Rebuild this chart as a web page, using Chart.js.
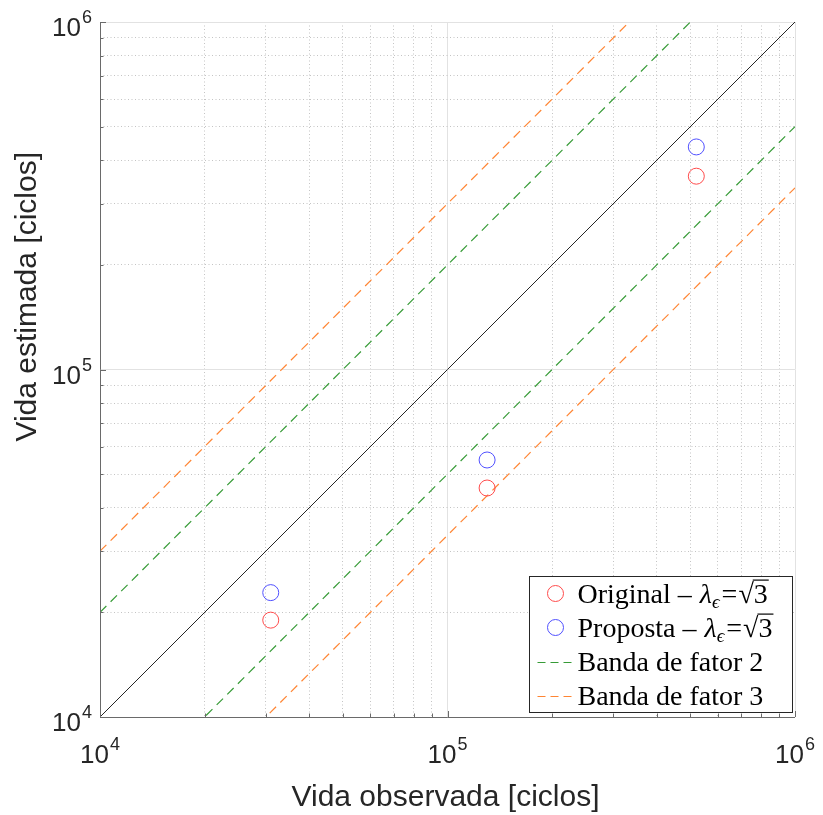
<!DOCTYPE html>
<html>
<head>
<meta charset="utf-8">
<script src="https://cdn.jsdelivr.net/npm/chart.js@4.4.1/dist/chart.umd.min.js"></script>
<style>
  body { margin: 0; background: #fff; }
  canvas { display: block; }
</style>
</head>
<body>
<canvas id="chart" width="823" height="815"></canvas>
<script>
// observed life (x) vs estimated life (y), cycles
const observedLife = [3.1e4, 1.3e5, 5.2e5];
const estimatedOriginal = [1.9e4, 4.56e4, 3.6e5];
const estimatedProposta = [2.28e4, 5.49e4, 4.37e5];

// end points of the reference lines
const lineX = [1e4, 1e6];
const identityY = [1e4, 1e6];
const factor2UpperY = [2e4, 2e6];
const factor2LowerY = [5e3, 5e5];
const factor3UpperY = [3e4, 3e6];
const factor3LowerY = [3.333e3, 3.333e5];

const majorTicks = [1e4, 1e5, 1e6];
const tickExponents = ['4', '5', '6'];
const minorMultipliers = [2, 3, 4, 5, 6, 7, 8, 9];

const legendLabels = ['Original', 'Proposta', 'Banda de fator 2', 'Banda de fator 3'];

const RED = 'rgb(255, 75, 75)';
const BLUE = 'rgb(80, 80, 255)';
const GREEN = '#379b37';
const ORANGE = '#ff8533';
const TEXT = '#262626';

// tick positions: every 1..9 x 10^k
const tickValues = [];
majorTicks.forEach((m, i) => {
  tickValues.push(m);
  if (i < majorTicks.length - 1) {
    minorMultipliers.forEach(k => tickValues.push(k * m));
  }
});

function isMajor(v) {
  const l = Math.log10(v);
  return Math.abs(l - Math.round(l)) < 1e-9;
}

function setTicks(scale) {
  scale.ticks = tickValues.map(v => ({ value: v, major: isMajor(v) }));
}

const toPoints = (xs, ys) => xs.map((x, i) => ({ x: x, y: ys[i] }));

const lineSet = (label, ys, color, dash, width) => ({
  label: label,
  data: toPoints(lineX, ys),
  showLine: true,
  borderColor: color,
  borderWidth: width,
  borderDash: dash,
  pointRadius: 0,
  pointHoverRadius: 0,
  clip: 0,
});

const gridColor = (c) => (c.tick && !isMajor(c.tick.value) ? '#c4c4c4' : '#e2e2e2');
const gridDash = (c) => (c.tick && !isMajor(c.tick.value) ? [1, 2.5] : []);

// draws "10" with a raised exponent
function drawPower(ctx, exp, x, y, align) {
  ctx.font = '26px "Liberation Sans", Arial, sans-serif';
  const wBase = ctx.measureText('10').width;
  ctx.font = '18px "Liberation Sans", Arial, sans-serif';
  const wExp = ctx.measureText(exp).width;
  const total = wBase + 1 + wExp;
  const start = align === 'center' ? x - total / 2 : x - total;
  ctx.textAlign = 'left';
  ctx.textBaseline = 'alphabetic';
  ctx.fillStyle = TEXT;
  ctx.font = '26px "Liberation Sans", Arial, sans-serif';
  ctx.fillText('10', start, y);
  ctx.font = '18px "Liberation Sans", Arial, sans-serif';
  ctx.fillText(exp, start + wBase + 1, y - 13);
}

const SERIF = '"Liberation Serif", "DejaVu Serif", serif';

// "Name – λϵ=√3"
function drawLambdaLabel(ctx, name, x, y) {
  ctx.textAlign = 'left';
  ctx.textBaseline = 'alphabetic';
  ctx.fillStyle = '#000';
  ctx.font = '28px ' + SERIF;
  const t1 = name + ' \u2013 ';
  ctx.fillText(t1, x, y);
  x += ctx.measureText(t1).width + 1;
  ctx.font = 'italic 28px ' + SERIF;
  ctx.fillText('\u03bb', x, y);
  x += ctx.measureText('\u03bb').width;
  ctx.font = 'italic 19px ' + SERIF;
  ctx.fillText('\u03f5', x, y + 5);
  x += ctx.measureText('\u03f5').width + 2;
  ctx.font = '28px ' + SERIF;
  ctx.fillText('=', x, y);
  x += ctx.measureText('=').width + 1;
  const rad = ctx.measureText('\u221a');
  ctx.fillText('\u221a', x, y);
  const top = y - rad.actualBoundingBoxAscent;
  x += rad.width;
  const w3 = ctx.measureText('3').width;
  ctx.fillText('3', x, y);
  ctx.strokeStyle = '#000';
  ctx.lineWidth = 1.2;
  ctx.beginPath();
  ctx.moveTo(x - 1, top + 0.6);
  ctx.lineTo(x + w3 + 1, top + 0.6);
  ctx.stroke();
}

const decorPlugin = {
  id: 'decor',
  afterDraw(chart) {
    const ctx = chart.ctx;
    const area = chart.chartArea;
    const xs = chart.scales.x;
    const ys = chart.scales.y;
    ctx.save();

    // axis lines with inward ticks
    ctx.strokeStyle = '#6a6a6a';
    ctx.lineWidth = 1;
    ctx.beginPath();
    ctx.moveTo(area.left + 0.5, area.top);
    ctx.lineTo(area.left + 0.5, area.bottom + 0.5);
    ctx.lineTo(area.right, area.bottom + 0.5);
    xs.ticks.forEach(t => {
      const px = Math.round(xs.getPixelForValue(t.value)) + 0.5;
      const len = isMajor(t.value) ? 6 : 3.5;
      ctx.moveTo(px, area.bottom);
      ctx.lineTo(px, area.bottom - len);
    });
    ys.ticks.forEach(t => {
      const py = Math.round(ys.getPixelForValue(t.value)) + 0.5;
      const len = isMajor(t.value) ? 6 : 3.5;
      ctx.moveTo(area.left, py);
      ctx.lineTo(area.left + len, py);
    });
    ctx.stroke();

    // tick labels
    majorTicks.forEach((v, i) => {
      drawPower(ctx, tickExponents[i], xs.getPixelForValue(v), area.bottom + 46, 'center');
      drawPower(ctx, tickExponents[i], area.left - 8, ys.getPixelForValue(v) + 14, 'right');
    });

    // axis titles
    ctx.fillStyle = TEXT;
    ctx.font = '30px "Liberation Sans", Arial, sans-serif';
    ctx.textAlign = 'center';
    ctx.textBaseline = 'alphabetic';
    ctx.fillText('Vida observada [ciclos]', (area.left + area.right) / 2 - 2, 806);
    ctx.save();
    ctx.translate(36, 152);
    ctx.rotate(-Math.PI / 2);
    ctx.textAlign = 'right';
    ctx.fillText('Vida estimada [ciclos]', 0, 0);
    ctx.restore();

    // legend box in the lower right corner
    const bw = 263, bh = 136;
    const bx = Math.round(area.right - 3 - bw) + 0.5;
    const by = Math.round(area.bottom - 5 - bh) + 0.5;
    ctx.fillStyle = '#fff';
    ctx.fillRect(bx, by, bw, bh);
    ctx.strokeStyle = '#262626';
    ctx.lineWidth = 1;
    ctx.strokeRect(bx, by, bw, bh);
    const rowH = bh / 4;
    const markerX = bx + 26;
    const textX = bx + 48;
    legendLabels.forEach((label, i) => {
      const cy = by + rowH * (i + 0.5);
      if (i < 2) {
        ctx.strokeStyle = i === 0 ? RED : BLUE;
        ctx.lineWidth = 1;
        ctx.beginPath();
        ctx.arc(markerX, cy, 8, 0, Math.PI * 2);
        ctx.stroke();
        drawLambdaLabel(ctx, label, textX, cy + 9);
      } else {
        ctx.strokeStyle = i === 2 ? GREEN : ORANGE;
        ctx.lineWidth = 1.2;
        ctx.setLineDash([8, 5]);
        ctx.beginPath();
        ctx.moveTo(bx + 8, Math.round(cy) + 0.5);
        ctx.lineTo(bx + 45, Math.round(cy) + 0.5);
        ctx.stroke();
        ctx.setLineDash([]);
        ctx.fillStyle = '#000';
        ctx.font = '28px ' + SERIF;
        ctx.textAlign = 'left';
        ctx.fillText(label, textX, cy + 9);
      }
    });
    ctx.restore();
  },
};

new Chart(document.getElementById('chart'), {
  type: 'scatter',
  data: {
    datasets: [
      {
        label: legendLabels[0],
        data: toPoints(observedLife, estimatedOriginal),
        pointStyle: 'circle',
        pointRadius: 8,
        pointBorderWidth: 1,
        pointBorderColor: RED,
        pointBackgroundColor: 'rgba(0,0,0,0)',
        showLine: false,
      },
      {
        label: legendLabels[1],
        data: toPoints(observedLife, estimatedProposta),
        pointStyle: 'circle',
        pointRadius: 8,
        pointBorderWidth: 1,
        pointBorderColor: BLUE,
        pointBackgroundColor: 'rgba(0,0,0,0)',
        showLine: false,
      },
      lineSet('identity', identityY, '#262626', [], 1),
      lineSet(legendLabels[2], factor2UpperY, GREEN, [9, 6], 1.2),
      lineSet(legendLabels[2] + ' (inf)', factor2LowerY, GREEN, [9, 6], 1.2),
      lineSet(legendLabels[3], factor3UpperY, ORANGE, [9, 6], 1.2),
      lineSet(legendLabels[3] + ' (inf)', factor3LowerY, ORANGE, [9, 6], 1.2),
    ],
  },
  options: {
    responsive: false,
    animation: false,
    devicePixelRatio: 1,
    layout: { padding: { left: 100, right: 28, top: 22, bottom: 98 } },
    plugins: {
      legend: { display: false },
      tooltip: { enabled: false },
    },
    scales: {
      x: {
        type: 'logarithmic',
        min: 1e4,
        max: 1e6,
        afterBuildTicks: setTicks,
        ticks: { display: false },
        grid: { color: gridColor, lineWidth: 1, drawTicks: false },
        border: { display: false, dash: gridDash },
      },
      y: {
        type: 'logarithmic',
        min: 1e4,
        max: 1e6,
        afterBuildTicks: setTicks,
        ticks: { display: false },
        grid: { color: gridColor, lineWidth: 1, drawTicks: false },
        border: { display: false, dash: gridDash },
      },
    },
  },
  plugins: [decorPlugin],
});
</script>
</body>
</html>
